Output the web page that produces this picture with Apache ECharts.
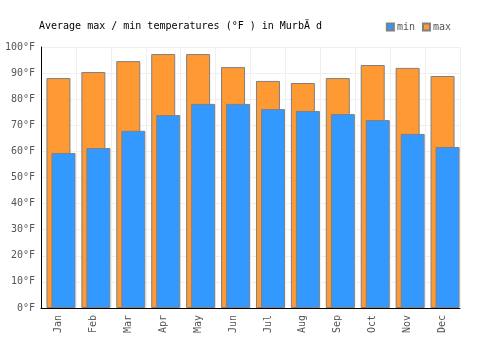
<!DOCTYPE html>
<html>
<head>
<meta charset="utf-8">
<script src="https://cdn.jsdelivr.net/npm/echarts@6/dist/echarts.min.js"></script>
<style>
	html, body { margin: 0; padding: 0; background: #fff; }
	#chart { width: 500px; height: 350px; }
</style>
</head>
<body>
<div id="chart"></div>
<script>
var months = ['Jan', 'Feb', 'Mar', 'Apr', 'May', 'Jun', 'Jul', 'Aug', 'Sep', 'Oct', 'Nov', 'Dec'];
var tempMax = [88.1, 90.4, 94.6, 97.3, 97.3, 92.3, 87.0, 86.2, 88.1, 93.1, 92.0, 88.9];
var tempMin = [59.4, 61.3, 67.9, 73.9, 78.2, 78.2, 76.2, 75.5, 74.3, 72.0, 66.7, 61.7];
var yTicks = [0, 100, 10]; // min, max, step

var font = 'DejaVu Sans Mono';

var myChart = echarts.init(document.getElementById('chart'));
var option = {
	animation: false,
	title: {
		text: 'Average max / min temperatures (°F ) in MurbÄ d',
		left: 34,
		top: 16,
		textStyle: {
			fontFamily: font,
			fontSize: 10,
			fontWeight: 'normal',
			color: '#000'
		}
	},
	legend: {
		data: ['min', 'max'],
		right: 44,
		top: 17,
		itemWidth: 7,
		itemHeight: 7,
		itemGap: 7,
		icon: 'rect',
		textStyle: {
			fontFamily: font,
			fontSize: 10,
			color: '#555',
			padding: [0, 0, 0, -2]
		}
	},
	grid: {
		left: 41,
		right: 40,
		top: 47,
		bottom: 42,
		containLabel: false
	},
	xAxis: {
		type: 'category',
		data: months,
		boundaryGap: true,
		axisLine: { lineStyle: { color: '#000', width: 1 } },
		axisTick: { show: false },
		splitLine: { show: true, lineStyle: { color: '#efefef' } },
		axisLabel: {
			rotate: 90,
			fontFamily: font,
			fontSize: 10,
			color: '#555',
			margin: 7
		}
	},
	yAxis: {
		type: 'value',
		min: yTicks[0],
		max: yTicks[1],
		interval: yTicks[2],
		axisLine: { show: true, lineStyle: { color: '#000', width: 1 } },
		axisTick: { show: false },
		splitLine: { lineStyle: { color: '#efefef' } },
		axisLabel: {
			formatter: '{value}°F',
			fontFamily: font,
			fontSize: 10,
			color: '#555',
			margin: 6
		}
	},
	series: [{
		// empty spacer so the bar pair sits to the right of each band
		name: 'spacer',
		type: 'bar',
		barWidth: 24,
		barGap: '-79%',
		silent: true,
		data: []
	}, {
		name: 'max',
		type: 'bar',
		barWidth: 24,
		barGap: '-79%',
		itemStyle: {
			color: '#ff9933',
			borderColor: '#808080',
			borderWidth: 1
		},
		data: tempMax
	}, {
		name: 'min',
		type: 'bar',
		barWidth: 24,
		barGap: '-79%',
		itemStyle: {
			color: '#3399ff',
			borderColor: '#808080',
			borderWidth: 1
		},
		data: tempMin
	}]
};

myChart.setOption(option);
window.addEventListener("resize", function(){
	myChart.resize();
});
</script>
</body>
</html>
